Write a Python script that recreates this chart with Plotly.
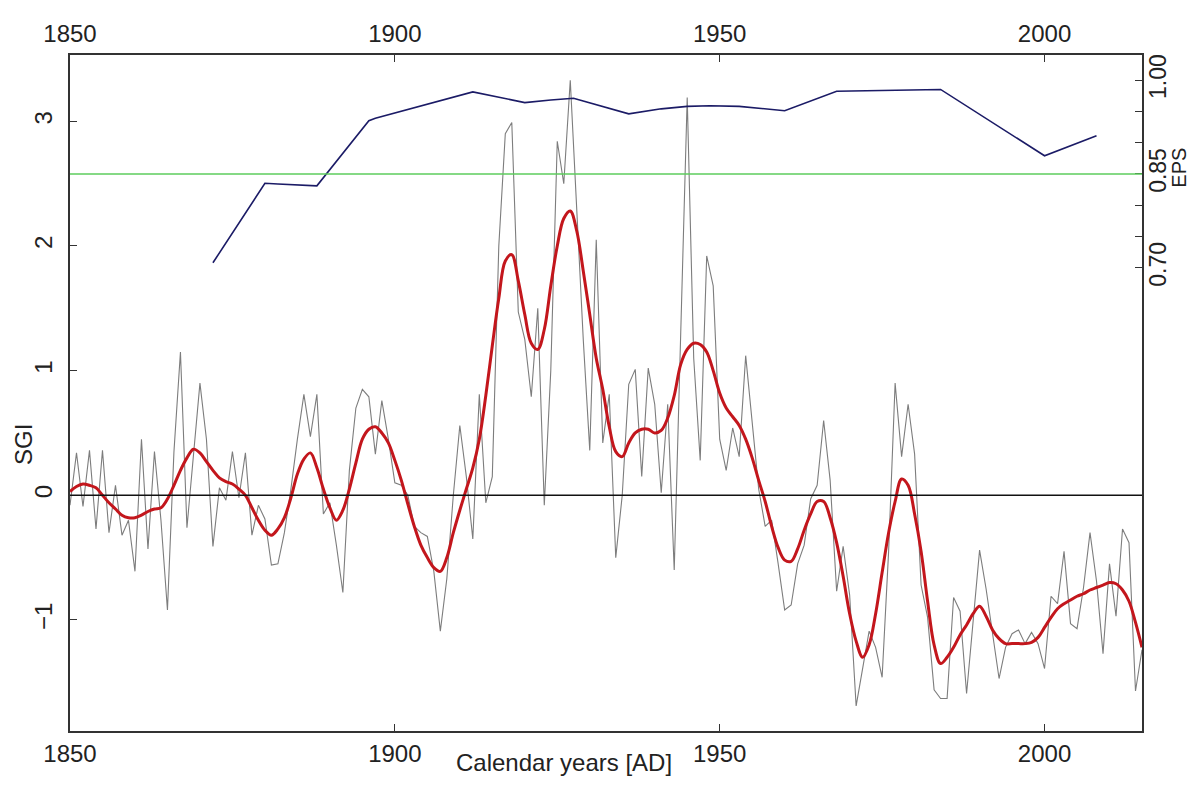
import plotly.graph_objects as go

# annual SGI series (grey), 1850-2015
years = list(range(1850, 2016))
sgi = [
    -0.08, 0.34, -0.09, 0.36, -0.27, 0.36, -0.30, 0.08, -0.32, -0.20,   # 1850s
    -0.61, 0.45, -0.43, 0.35, -0.20, -0.92, 0.35, 1.15, -0.26, 0.33,    # 1860s
    0.90, 0.45, -0.41, 0.06, -0.04, 0.35, -0.02, 0.34, -0.32, -0.08,    # 1870s
    -0.19, -0.56, -0.55, -0.30, 0.05, 0.45, 0.81, 0.47, 0.81, -0.15,    # 1880s
    -0.06, -0.40, -0.78, 0.20, 0.70, 0.85, 0.79, 0.33, 0.76, 0.45,      # 1890s
    0.10, 0.08, 0.00, -0.25, -0.30, -0.33, -0.61, -1.09, -0.67, 0.00,   # 1900s
    0.56, 0.15, -0.35, 0.81, -0.06, 0.15, 2.00, 2.90, 2.99, 1.47,       # 1910s
    1.25, 0.79, 1.50, -0.08, 1.00, 2.84, 2.50, 3.33, 2.26, 1.25,        # 1920s
    0.36, 2.05, 0.42, 0.81, -0.50, 0.00, 0.89, 1.01, 0.15, 1.02,        # 1930s
    0.73, 0.02, 0.73, -0.60, 1.30, 3.19, 1.10, 0.28, 1.92, 1.68,        # 1940s
    0.45, 0.20, 0.54, 0.31, 1.12, 0.57, 0.05, -0.25, -0.20, -0.55,      # 1950s
    -0.92, -0.88, -0.55, -0.40, -0.03, 0.08, 0.60, 0.12, -0.77, -0.41,  # 1960s
    -0.80, -1.69, -1.38, -1.09, -1.22, -1.46, -0.45, 0.90, 0.31, 0.73,  # 1970s
    0.33, -0.72, -0.98, -1.56, -1.63, -1.63, -0.82, -0.93, -1.59, -0.98,  # 1980s
    -0.44, -0.75, -1.11, -1.47, -1.22, -1.11, -1.08, -1.19, -1.10, -1.19,  # 1990s
    -1.39, -0.81, -0.87, -0.45, -1.03, -1.07, -0.74, -0.30, -0.69, -1.27,  # 2000s
    -0.55, -0.97, -0.27, -0.38, -1.57, -1.24,                           # 2010s
]

# smoothed SGI (red)
sgi_smooth = [
    0.03, 0.07, 0.09, 0.08, 0.06, 0.00, -0.06, -0.11, -0.16, -0.18,
    -0.18, -0.16, -0.13, -0.11, -0.10, -0.03, 0.08, 0.20, 0.30, 0.37,
    0.34, 0.27, 0.20, 0.14, 0.11, 0.09, 0.05, 0.00, -0.10, -0.20,
    -0.28, -0.32, -0.27, -0.18, -0.02, 0.17, 0.29, 0.34, 0.22, 0.05,
    -0.10, -0.20, -0.12, 0.05, 0.26, 0.45, 0.53, 0.55, 0.50, 0.42,
    0.28, 0.12, -0.07, -0.25, -0.40, -0.50, -0.58, -0.61, -0.50, -0.30,
    -0.12, 0.05, 0.22, 0.45, 0.80, 1.20, 1.58, 1.88, 1.93, 1.72,
    1.45, 1.22, 1.17, 1.33, 1.68, 2.00, 2.22, 2.28, 2.12, 1.80,
    1.45, 1.10, 0.85, 0.55, 0.35, 0.31, 0.42, 0.50, 0.53, 0.53,
    0.50, 0.52, 0.62, 0.80, 1.05, 1.17, 1.22, 1.21, 1.15, 1.00,
    0.82, 0.70, 0.63, 0.56, 0.45, 0.30, 0.12, -0.05, -0.25, -0.42,
    -0.52, -0.53, -0.43, -0.28, -0.15, -0.05, -0.05, -0.18, -0.38, -0.65,
    -0.95, -1.17, -1.30, -1.20, -0.95, -0.62, -0.30, -0.05, 0.13, 0.08,
    -0.15, -0.45, -0.85, -1.20, -1.35, -1.30, -1.22, -1.12, -1.04, -0.95,
    -0.89, -0.97, -1.08, -1.15, -1.19, -1.19, -1.19, -1.19, -1.18, -1.14,
    -1.06, -0.98, -0.91, -0.87, -0.84, -0.81, -0.79, -0.76, -0.74, -0.72,
    -0.70, -0.71, -0.76, -0.85, -1.02, -1.22,
]

# EPS (right axis)
eps_years = [1872, 1880, 1882, 1886, 1888, 1896, 1897, 1912, 1920, 1924, 1927.5,
             1936, 1941, 1945, 1948.5, 1953, 1960, 1968, 1984, 2000, 2008]
eps_vals = [0.708, 0.835, 0.834, 0.832, 0.831, 0.935, 0.939, 0.981, 0.964, 0.968, 0.971,
            0.946, 0.954, 0.958, 0.959, 0.958, 0.951, 0.982, 0.985, 0.879, 0.911]
eps_threshold = 0.85

year_ticks = [1850, 1900, 1950, 2000]
sgi_ticks = [-1, 0, 1, 2, 3]
eps_ticks = [0.70, 0.75, 0.80, 0.85, 0.90, 0.95, 1.00]
eps_ticklabels = ["0.70", "", "", "0.85", "", "", "1.00"]

assert len(sgi) == len(years) == len(sgi_smooth)

FONT = "Liberation Sans, Arial, sans-serif"
AX = "#333333"
TXT = "#222222"
FS = 24

fig = go.Figure()
fig.add_trace(go.Scatter(x=years, y=sgi, mode="lines",
                         line=dict(color="#7d7d7d", width=1.1), name="SGI"))
fig.add_trace(go.Scatter(x=years, y=sgi_smooth, mode="lines",
                         line=dict(color="#c3161c", width=3, shape="spline"),
                         name="SGI smoothed"))
fig.add_trace(go.Scatter(x=eps_years, y=eps_vals, mode="lines",
                         line=dict(color="#1b1b66", width=1.6),
                         xaxis="x2", yaxis="y2", name="EPS"))

axis_common = dict(showgrid=False, zeroline=False, ticks="inside", ticklen=7,
                   tickcolor=AX, tickwidth=1.2,
                   tickfont=dict(family=FONT, size=FS, color=TXT))

# the page body adds an 8px margin, so the figure is shifted by that
fig.update_layout(
    width=1184, height=771,
    margin=dict(l=62, r=50, t=38, b=47),
    plot_bgcolor="white", paper_bgcolor="white",
    showlegend=False,
    font=dict(family=FONT, size=FS, color=TXT),
    xaxis=dict(range=[1850, 2015], tickvals=year_ticks,
               showline=True, linecolor=AX, linewidth=1.5, mirror=True,
               ticklabelstandoff=0, **axis_common),
    xaxis2=dict(range=[1850, 2015], tickvals=year_ticks, overlaying="x",
                side="top", anchor="y", showline=False,
                ticklabelstandoff=7, **axis_common),
    yaxis=dict(range=[-1.891, 3.532], tickvals=sgi_ticks, tickangle=-90,
               showline=True, linecolor=AX, linewidth=1.5, mirror=True,
               ticklabelstandoff=7, **axis_common),
    yaxis2=dict(range=[-0.04, 1.04], tickvals=eps_ticks, ticktext=eps_ticklabels,
                tickangle=-90, overlaying="y", side="right", anchor="x2",
                showline=False, ticklabelstandoff=0,
                showgrid=False, zeroline=False, ticks="inside", ticklen=7,
                tickcolor=AX, tickwidth=1.2,
                tickfont=dict(family=FONT, size=23, color=TXT)),
    shapes=[
        dict(type="line", xref="paper", x0=0, x1=1, yref="y", y0=0, y1=0,
             line=dict(color="#111111", width=1.5)),
        dict(type="line", xref="paper", x0=0, x1=1, yref="y2",
             y0=eps_threshold, y1=eps_threshold,
             line=dict(color="#5ccc5c", width=1.5)),
    ],
    annotations=[
        dict(text="SGI", xref="paper", yref="y", x=-0.044, y=0.41,
             textangle=-90, showarrow=False, xanchor="center", yanchor="middle",
             font=dict(family=FONT, size=FS, color=TXT)),
        dict(text="EPS", xref="paper", yref="y2", x=1.0345, y=0.86,
             textangle=-90, showarrow=False, xanchor="center", yanchor="middle",
             borderpad=0, font=dict(family=FONT, size=20, color=TXT)),
        dict(text="Calendar years [AD]", xref="x", yref="paper", x=1926, y=-0.047,
             showarrow=False, xanchor="center", yanchor="middle",
             font=dict(family=FONT, size=FS, color=TXT)),
    ],
)

fig.write_html("out.html")
